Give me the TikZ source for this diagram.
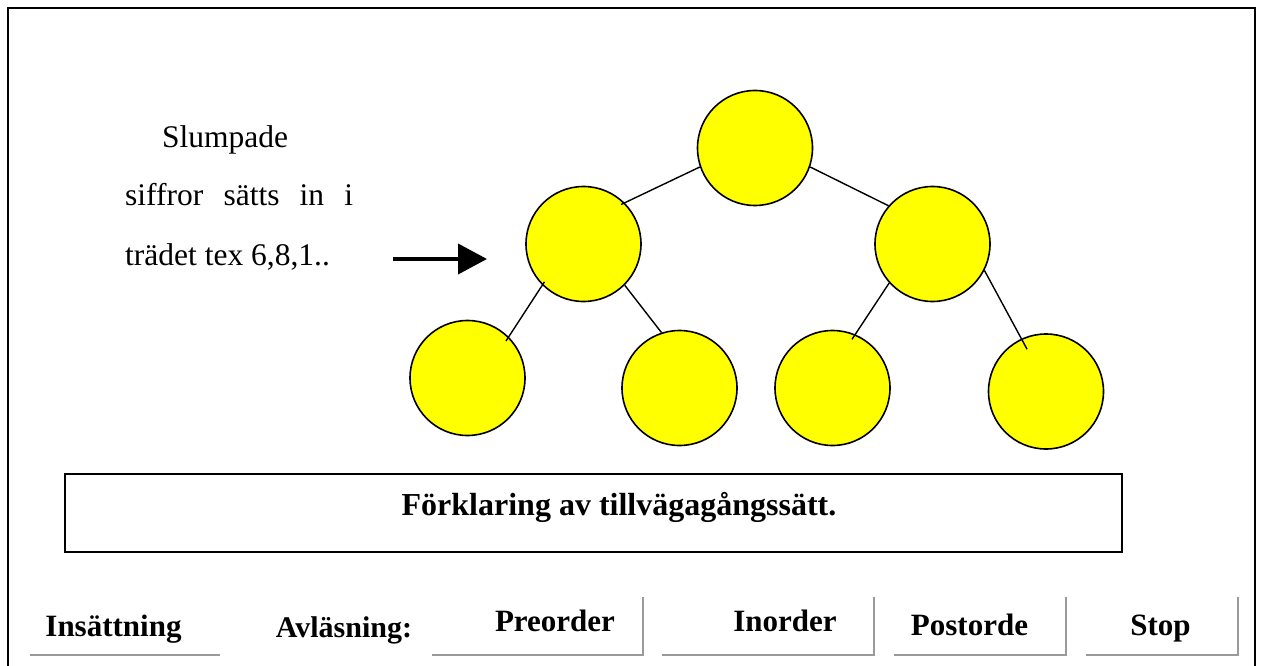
\documentclass[tikz,border=0pt]{standalone}
\usepackage{fontspec}
\setmainfont{Liberation Serif}
\usetikzlibrary{arrows.meta}
\definecolor{nodeyellow}{HTML}{FFFF00}
\definecolor{btngray}{HTML}{9A9A9A}
\begin{document}
\begin{tikzpicture}[x=1pt,y=-1pt,
  treenode/.style={circle, draw=black, fill=nodeyellow, line width=1.6pt, minimum size=115pt, inner sep=0pt},
  treeedge/.style={line width=1.4pt, black},
  framelines/.style={line width=2.6pt, black},
  expbox/.style={rectangle, draw=black, line width=1.8pt, inner sep=0pt},
  btnbox/.style={rectangle, inner sep=0pt, minimum height=58pt},
  btnline/.style={draw=btngray, line width=2pt},
  btntext/.style={anchor=base, inner sep=0pt, font=\fontsize{31}{37}\selectfont\bfseries},
  bodytext/.style={anchor=base west, inner sep=0pt, font=\fontsize{31.5}{38}\selectfont},
  bigarrow/.style={line width=4pt, -{Triangle[length=29pt,width=30pt]}}
]
\useasboundingbox (0,0) rectangle (1262,666);

% outer frame (open at bottom)
\coordinate (fBL) at (8,672);
\coordinate (fTL) at (8,8);
\coordinate (fTR) at (1255,8);
\coordinate (fBR) at (1255,672);
\draw[framelines] (fBL) -- (fTL) -- (fTR) -- (fBR);

% tree
\node[treenode] (root) at (755,148) {};
\node[treenode] (lc) at (583.5,244) {};
\node[treenode] (rc) at (932.5,244) {};
\node[treenode] (ll) at (467.5,378) {};
\node[treenode] (lr) at (679.5,388) {};
\node[treenode] (rl) at (832.5,388) {};
\node[treenode] (rr) at (1046,391.5) {};

\draw[treeedge, shorten >=-4pt] (root.199) -- (lc.45);
\draw[treeedge] (root.341) -- (rc.139);
\draw[treeedge, shorten <=-4pt, shorten >=-5pt] (lc.225) -- (ll.45);
\draw[treeedge] (lc.315) -- (lr.108);
\draw[treeedge, shorten >=-6pt] (rc.222) -- (rl.67);
\draw[treeedge, shorten >=-12pt] (rc.333) -- (rr.115);

% left text
\node[bodytext] (t1) at (162,148) {Slumpade};
\node[bodytext] (t2) at (125,206) {\makebox[228pt][s]{siffror\hfill sätts\hfill in\hfill i}};
\node[bodytext] (t3) at (125,265) {trädet tex 6,8,1..};

% arrow
\coordinate (arrS) at (393,259);
\coordinate (arrE) at (487,259);
\draw[bigarrow] (arrS) -- (arrE);

% explanation box
\node[expbox, minimum width=1057pt, minimum height=78pt] (exp) at (593.5,513) {};
\node[btntext, font=\fontsize{32}{38}\selectfont\bfseries] (expT) at (619,515) {Förklaring av tillvägagångssätt.};

% buttons
\node[btnbox, minimum width=190pt] (bIns) at (125,626) {};
\node[btnbox, minimum width=211pt] (bPre) at (537.5,626) {};
\node[btnbox, minimum width=212pt] (bIno) at (768,626) {};
\node[btnbox, minimum width=172pt] (bPos) at (980,626) {};
\node[btnbox, minimum width=152pt] (bSto) at (1162,626) {};

\draw[btnline] (bIns.south west) -- (bIns.south east);
\draw[btnline] (bPre.south west) -- (bPre.south east) -- (bPre.north east);
\draw[btnline] (bIno.south west) -- (bIno.south east) -- (bIno.north east);
\draw[btnline] (bPos.south west) -- (bPos.south east) -- (bPos.north east);
\draw[btnline] (bSto.south west) -- (bSto.south east) -- (bSto.north east);

\node[btntext] (tIns) at (113.5,636) {Insättning};
\node[btntext, font=\fontsize{30}{36}\selectfont\bfseries] (tAvl) at (344,637) {Avläsning:};
\node[btntext] (tPre) at (555,631) {Preorder};
\node[btntext] (tIno) at (785,631) {Inorder};
\node[btntext] (tPos) at (969.5,635) {Postorde};
\node[btntext] (tSto) at (1160.5,635) {Stop};
\end{tikzpicture}
\end{document}
